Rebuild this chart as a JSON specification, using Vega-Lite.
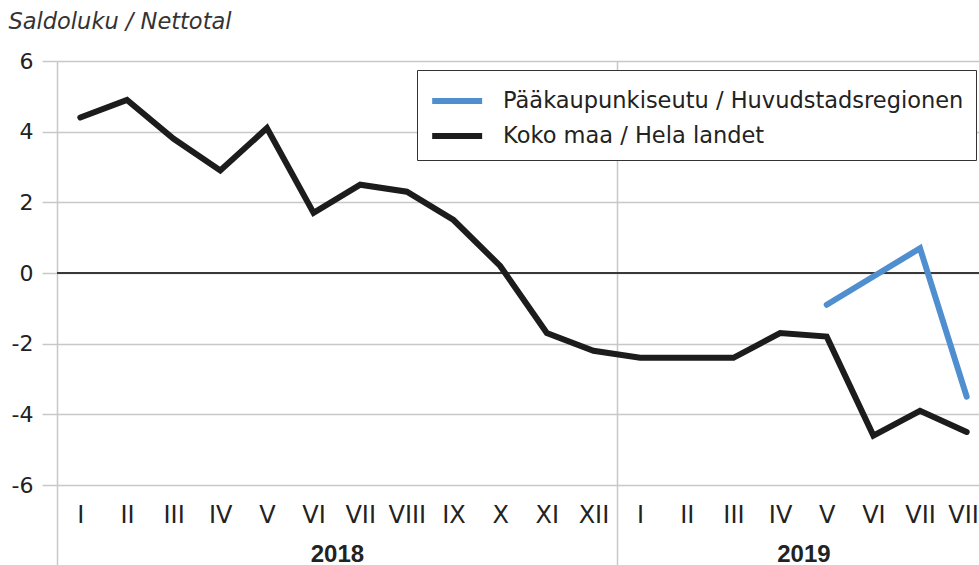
{
  "$schema": "https://vega.github.io/schema/vega-lite/v6.json",
  "autosize": "none",
  "padding": {"left": 57, "top": 61, "right": 0, "bottom": 80},
  "width": 933,
  "height": 424,
  "background": "white",
  "data": {
    "values": [
      {"i": 0, "year": 2018, "month": "I", "series": "Koko maa / Hela landet", "value": 4.4},
      {"i": 1, "year": 2018, "month": "II", "series": "Koko maa / Hela landet", "value": 4.9},
      {"i": 2, "year": 2018, "month": "III", "series": "Koko maa / Hela landet", "value": 3.8},
      {"i": 3, "year": 2018, "month": "IV", "series": "Koko maa / Hela landet", "value": 2.9},
      {"i": 4, "year": 2018, "month": "V", "series": "Koko maa / Hela landet", "value": 4.1},
      {"i": 5, "year": 2018, "month": "VI", "series": "Koko maa / Hela landet", "value": 1.7},
      {"i": 6, "year": 2018, "month": "VII", "series": "Koko maa / Hela landet", "value": 2.5},
      {"i": 7, "year": 2018, "month": "VIII", "series": "Koko maa / Hela landet", "value": 2.3},
      {"i": 8, "year": 2018, "month": "IX", "series": "Koko maa / Hela landet", "value": 1.5},
      {"i": 9, "year": 2018, "month": "X", "series": "Koko maa / Hela landet", "value": 0.2},
      {"i": 10, "year": 2018, "month": "XI", "series": "Koko maa / Hela landet", "value": -1.7},
      {"i": 11, "year": 2018, "month": "XII", "series": "Koko maa / Hela landet", "value": -2.2},
      {"i": 12, "year": 2019, "month": "I", "series": "Koko maa / Hela landet", "value": -2.4},
      {"i": 13, "year": 2019, "month": "II", "series": "Koko maa / Hela landet", "value": -2.4},
      {"i": 14, "year": 2019, "month": "III", "series": "Koko maa / Hela landet", "value": -2.4},
      {"i": 15, "year": 2019, "month": "IV", "series": "Koko maa / Hela landet", "value": -1.7},
      {"i": 16, "year": 2019, "month": "V", "series": "Koko maa / Hela landet", "value": -1.8},
      {"i": 17, "year": 2019, "month": "VI", "series": "Koko maa / Hela landet", "value": -4.6},
      {"i": 18, "year": 2019, "month": "VII", "series": "Koko maa / Hela landet", "value": -3.9},
      {"i": 19, "year": 2019, "month": "VIII", "series": "Koko maa / Hela landet", "value": -4.5},
      {"i": 16, "year": 2019, "month": "V", "series": "Pääkaupunkiseutu / Huvudstadsregionen", "value": -0.9},
      {"i": 17, "year": 2019, "month": "VI", "series": "Pääkaupunkiseutu / Huvudstadsregionen", "value": -0.1},
      {"i": 18, "year": 2019, "month": "VII", "series": "Pääkaupunkiseutu / Huvudstadsregionen", "value": 0.7},
      {"i": 19, "year": 2019, "month": "VIII", "series": "Pääkaupunkiseutu / Huvudstadsregionen", "value": -3.5}
    ]
  },
  "resolve": {"axis": {"x": "independent"}},
  "layer": [
    {
      "mark": {"type": "rule", "color": "#3a3a3a", "strokeWidth": 1.5},
      "encoding": {
        "y": {"datum": 0, "type": "quantitative"}
      }
    },
    {
      "transform": [{"filter": "datum.series === 'Koko maa / Hela landet'"}],
      "mark": {"type": "line", "strokeWidth": 6, "strokeCap": "round", "strokeJoin": "miter"},
      "encoding": {
        "x": {
          "field": "i", "type": "quantitative",
          "scale": {"domain": [-0.5, 19.5], "nice": false, "zero": false},
          "axis": {
            "orient": "bottom",
            "values": [0,1,2,3,4,5,6,7,8,9,10,11,12,13,14,15,16,17,18,19],
            "labelExpr": "['I','II','III','IV','V','VI','VII','VIII','IX','X','XI','XII'][datum.value % 12]",
            "ticks": false, "domain": false, "grid": false,
            "labelPadding": 18, "labelBaseline": "top",
            "labelFontSize": 24, "labelColor": "#222", "labelFlush": false, "labelOverlap": false,
            "title": null
          }
        },
        "y": {
          "field": "value", "type": "quantitative",
          "scale": {"domain": [-6, 6], "nice": false, "zero": false},
          "axis": {
            "values": [-6, -4, -2, 0, 2, 4, 6],
            "labelExpr": "datum.value < 0 ? '-' + abs(datum.value) : '' + datum.value",
            "title": "Saldoluku / Nettotal",
            "titleAngle": 0, "titleAlign": "left", "titleBaseline": "alphabetic",
            "titleX": -49, "titleY": -33,
            "titleFontStyle": "italic", "titleFontWeight": "normal", "titleFontSize": 22.5, "titleColor": "#333",
            "domain": false, "tickSize": 15, "tickColor": "#c8c8c8", "tickWidth": 1.5,
            "grid": true, "gridColor": "#c8c8c8", "gridWidth": 1.5,
            "labelPadding": 9, "labelFontSize": 22, "labelColor": "#222"
          }
        },
        "color": {
          "field": "series", "type": "nominal",
          "scale": {
            "domain": ["Pääkaupunkiseutu / Huvudstadsregionen", "Koko maa / Hela landet"],
            "range": ["#4f8fcf", "#1c1c1c"]
          },
          "legend": {
            "title": null, "orient": "none", "legendX": 360, "legendY": 9,
            "symbolType": "M-1,0H2.16", "symbolSize": 1000, "symbolStrokeWidth": 6,
            "labelFontSize": 22.5, "labelColor": "#222", "labelOffset": 36, "labelLimit": 0,
            "rowPadding": 4, "padding": 12,
            "fillColor": "white", "strokeColor": "#333"
          }
        }
      }
    },
    {
      "transform": [{"filter": "datum.series === 'Pääkaupunkiseutu / Huvudstadsregionen'"}],
      "mark": {"type": "line", "strokeWidth": 6, "strokeCap": "round", "strokeJoin": "miter"},
      "encoding": {
        "x": {
          "field": "i", "type": "quantitative",
          "axis": {
            "orient": "bottom",
            "values": [-0.5, 5.5, 11.5, 15.5],
            "labelExpr": "datum.value == 5.5 ? '2018' : datum.value == 15.5 ? '2019' : ''",
            "domain": false,
            "ticks": true, "tickSize": 80, "tickColor": "#c8c8c8", "tickWidth": 1.5,
            "tickOpacity": {"condition": {"test": "datum.value == -0.5 || datum.value == 11.5", "value": 1}, "value": 0},
            "grid": true, "gridColor": "#c8c8c8", "gridWidth": 1.5,
            "gridOpacity": {"condition": {"test": "datum.value == -0.5 || datum.value == 11.5", "value": 1}, "value": 0},
            "labelPadding": -23, "labelBaseline": "top",
            "labelFont": "Liberation Sans",
            "labelFontSize": 24, "labelFontWeight": "bold", "labelColor": "#222",
            "labelFlush": false, "labelOverlap": false,
            "title": null
          }
        },
        "y": {"field": "value", "type": "quantitative"},
        "color": {"field": "series", "type": "nominal"}
      }
    }
  ],
  "config": {
    "font": "DejaVu Sans",
    "view": {"stroke": null}
  }
}
